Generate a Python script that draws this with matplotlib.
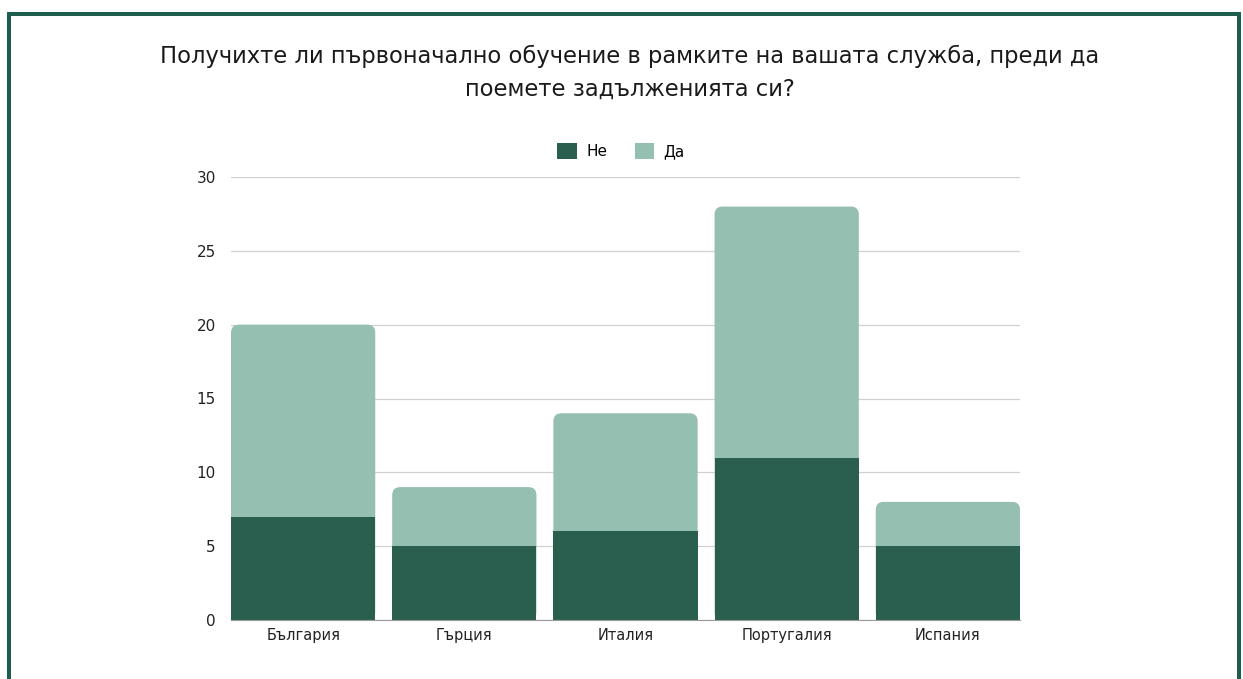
import matplotlib
matplotlib.use("Agg")
import matplotlib.pyplot as plt
from matplotlib.patches import FancyBboxPatch, Patch
from matplotlib.lines import Line2D

categories = ["България", "Гърция", "Италия", "Португалия", "Испания"]
no_vals = [7, 5, 6, 11, 5]
yes_vals = [13, 4, 8, 17, 3]
title = "Получихте ли първоначално обучение в рамките на вашата служба, преди да\nпоемете задълженията си?"
yticks = [0, 5, 10, 15, 20, 25, 30]

plt.rcParams['font.family'] = ['DejaVu Sans']

dark = "#2a5e4f"
light = "#94bfb1"
border = "#1d5e4e"

W, H = 1243, 679
fig = plt.figure(figsize=(W / 100, H / 100), dpi=100)
ax = fig.add_axes([231 / W, 1 - 620 / H, (1020 - 231) / W, (620 - 177) / H])

n = len(categories)
width = 0.895
ax.set_xlim(-0.5 + (1 - width) / 2, n - 0.5 - (1 - width) / 2)
ax.set_ylim(0, 30)

px_per_x = (1020 - 231) / (ax.get_xlim()[1] - ax.get_xlim()[0])
px_per_y = (620 - 177) / 30
rpx = 8
rx = rpx / px_per_x
aspect = (rpx / px_per_y) / rx

for i in range(n):
    total = no_vals[i] + yes_vals[i]
    p = FancyBboxPatch((i - width / 2, 0), width, total,
                       boxstyle=f"round,pad=0,rounding_size={rx}",
                       mutation_aspect=aspect, facecolor=light,
                       edgecolor="none", zorder=3)
    ax.add_patch(p)
ax.bar(range(n), no_vals, width=width, color=dark, zorder=4)

ax.set_yticks(yticks)
ax.set_yticklabels([str(t) for t in yticks], fontsize=11, color="#222222")
ax.set_xticks(range(n))
ax.set_xticklabels(categories, fontsize=10.5, color="#222222")
ax.tick_params(axis='both', length=0)
ax.tick_params(axis='y', pad=11)
ax.tick_params(axis='x', pad=6)
ax.grid(axis='y', color="#d0d0d0", linewidth=0.9, zorder=0)
for s in ["top", "right", "left"]:
    ax.spines[s].set_visible(False)
ax.spines["bottom"].set_color("#999999")
ax.spines["bottom"].set_zorder(5)

fig.text(630 / W, 1 - 72.5 / H, title, ha="center", va="center", fontsize=16.3,
         color="#1a1a1a", linespacing=1.55)

handles = [Patch(facecolor=dark, edgecolor="none", label="Не"),
           Patch(facecolor=light, edgecolor="none", label="Да")]
fig.legend(handles=handles, loc="center", bbox_to_anchor=(621 / W, 1 - 151 / H),
           ncol=2, frameon=False, fontsize=11, handlelength=1.3, handleheight=1.3,
           columnspacing=1.8, handletextpad=0.6)

lw = 2.9
fig.add_artist(Line2D([9 / W, 9 / W], [0, 1 - 12 / H], transform=fig.transFigure,
                      color=border, linewidth=lw, solid_capstyle="butt"))
fig.add_artist(Line2D([7 / W, 1241 / W], [1 - 14 / H, 1 - 14 / H], transform=fig.transFigure,
                      color=border, linewidth=lw, solid_capstyle="butt"))
fig.add_artist(Line2D([1239 / W, 1239 / W], [0, 1 - 12 / H], transform=fig.transFigure,
                      color=border, linewidth=lw, solid_capstyle="butt"))

fig.savefig("out.png", dpi=100, facecolor="white")
